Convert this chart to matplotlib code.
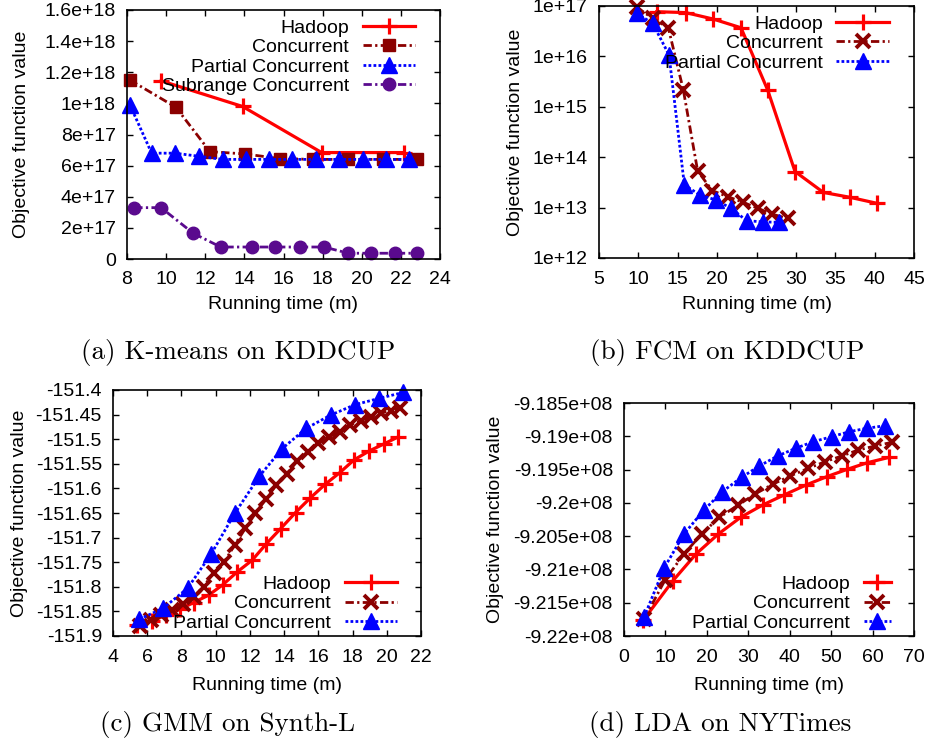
import matplotlib
matplotlib.use("Agg")
import matplotlib.pyplot as plt
from matplotlib.ticker import MultipleLocator, FuncFormatter, LogLocator, NullLocator

plt.rcParams['font.family'] = 'Liberation Sans'
plt.rcParams['font.size'] = 14

# (a) K-means on KDDCUP
km_hadoop_t = [9.74, 13.91, 17.95, 22.18]
km_hadoop_v = [1.145e18, 9.8e17, 6.84e17, 6.84e17]
km_conc_t = [8.15, 10.5, 12.24, 14.03, 15.82, 17.53, 19.32, 21.1, 22.84]
km_conc_v = [1.15e18, 9.75e17, 6.9e17, 6.75e17, 6.45e17, 6.4e17, 6.4e17, 6.4e17, 6.4e17]
km_part_t = [8.15, 9.26, 10.45, 11.68, 12.89, 14.07, 15.28, 16.45, 17.66, 18.85, 20.05, 21.24, 22.43]
km_part_v = [9.9e17, 6.8e17, 6.8e17, 6.6e17, 6.4e17, 6.4e17, 6.4e17, 6.4e17, 6.4e17,
             6.4e17, 6.4e17, 6.4e17, 6.4e17]
km_sub_t = [8.37, 9.74, 11.39, 12.79, 14.38, 15.57, 16.84, 18.07, 19.32, 20.46, 21.7, 22.81]
km_sub_v = [3.3e17, 3.3e17, 1.65e17, 7.7e16, 7.7e16, 7.7e16, 7.7e16, 7.7e16,
            3.7e16, 3.7e16, 3.7e16, 3.7e16]

# (b) FCM on KDDCUP
fcm_hadoop_t = [12.33, 16.0, 19.52, 23.03, 26.42, 29.89, 33.49, 36.87, 40.26]
fcm_hadoop_v = [7.7e16, 7.4e16, 5.5e16, 3.7e16, 2.15e15, 5.2e13, 2.0e13, 1.6e13, 1.22e13]
fcm_conc_t = [9.78, 11.82, 13.8, 15.71, 17.53, 19.39, 21.34, 23.33, 25.15, 27.0, 28.96]
fcm_conc_v = [9.4e16, 5.7e16, 3.7e16, 2.15e15, 5.3e13, 2.17e13, 1.65e13, 1.27e13,
              9.7e12, 7.4e12, 6.1e12]
fcm_part_t = [9.78, 11.82, 13.89, 15.84, 17.83, 19.82, 21.76, 23.75, 25.86, 27.89]
fcm_part_v = [7.2e16, 4.5e16, 1.07e16, 2.8e13, 1.78e13, 1.42e13, 9.7e12, 5.5e12, 5.2e12, 5.1e12]

# (c) GMM on Synth-L
gmm_hadoop_t = [5.43, 6.27, 7.09, 7.89, 8.71, 9.59, 10.41, 11.25, 12.13, 12.95, 13.79,
                14.67, 15.51, 16.39, 17.25, 18.09, 18.97, 19.81, 20.63]
gmm_hadoop_v = [-151.878, -151.869, -151.858, -151.846, -151.832, -151.817, -151.796,
                -151.770, -151.746, -151.713, -151.682, -151.649, -151.620, -151.592,
                -151.568, -151.542, -151.524, -151.510, -151.496]
gmm_conc_t = [5.58, 6.21, 6.83, 7.46, 8.08, 8.71, 9.29, 9.88, 10.51, 11.11, 11.74, 12.32,
              12.95, 13.55, 14.14, 14.77, 15.39, 15.98, 16.62, 17.25, 17.85, 18.48, 19.1,
              19.65, 20.24, 20.78]
gmm_conc_v = [-151.880, -151.867, -151.858, -151.847, -151.834, -151.820, -151.800,
              -151.771, -151.749, -151.715, -151.681, -151.651, -151.621, -151.593,
              -151.571, -151.544, -151.525, -151.508, -151.496, -151.485, -151.471,
              -151.462, -151.454, -151.447, -151.442, -151.437]
gmm_part_t = [5.54, 6.91, 8.36, 9.74, 11.15, 12.56, 13.89, 15.29, 16.72, 18.13, 19.55, 20.96]
gmm_part_v = [-151.866, -151.844, -151.803, -151.733, -151.649, -151.575, -151.519,
              -151.478, -151.451, -151.430, -151.417, -151.405]

# (d) LDA on NYTimes
lda_hadoop_t = [4.67, 11.75, 17.38, 22.77, 28.16, 33.47, 38.62, 43.93, 48.92, 53.9, 58.73, 64.04]
lda_hadoop_v = [-9.2176e8, -9.21174e8, -9.20768e8, -9.20468e8, -9.20217e8, -9.20032e8,
                -9.19882e8, -9.19732e8, -9.19607e8, -9.19496e8, -9.19397e8, -9.19316e8]
lda_conc_t = [4.83, 9.9, 14.48, 18.75, 23.0, 27.6, 31.62, 35.88, 40.07, 44.5, 48.52,
              52.54, 56.56, 60.58, 64.6]
lda_conc_v = [-9.2175e8, -9.21159e8, -9.20768e8, -9.20468e8, -9.20217e8, -9.20032e8,
              -9.19867e8, -9.19721e8, -9.19597e8, -9.19481e8, -9.19382e8, -9.19296e8,
              -9.19206e8, -9.19146e8, -9.19091e8]
lda_part_t = [4.83, 9.65, 14.48, 19.31, 23.73, 28.4, 32.66, 37.09, 41.44, 45.69, 50.13,
              54.38, 58.58, 63.0]
lda_part_v = [-9.21719e8, -9.20983e8, -9.20468e8, -9.20107e8, -9.19832e8, -9.19616e8,
              -9.19446e8, -9.19296e8, -9.1918e8, -9.19081e8, -9.19006e8, -9.18931e8,
              -9.1888e8, -9.18841e8]

RED = '#ff0000'
DARKRED = '#8b0000'
BLUE = '#0000ff'
PURPLE = '#5a0a8e'

# line styles for the systems
hadoop = dict(color=RED, lw=2.3, marker='+', ms=11, mew=2.3, label='Hadoop')
conc_sq = dict(color=DARKRED, lw=2.0, ls=(0, (3, 1.2, 0.8, 1.2)), marker='s', ms=9,
               label='Concurrent')
conc_x = dict(color=DARKRED, lw=2.0, ls=(0, (3, 1.2, 0.8, 1.2)), marker='x', ms=10,
              mew=2.8, label='Concurrent')
partial = dict(color=BLUE, lw=2.0, ls=(0, (1, 0.8)), marker='^', ms=11, mfc=BLUE,
               mec=BLUE, label='Partial Concurrent')
subrange = dict(color=PURPLE, lw=2.0, ls=(0, (3, 1.2, 0.8, 1.2)), marker='o', ms=9,
                label='Subrange Concurrent')

W, H = 931, 746
fig = plt.figure(figsize=(W / 100, H / 100), dpi=100)


def make_axes(left, top, right, bottom):
    ax = fig.add_axes([left / W, 1 - bottom / H, (right - left) / W, (bottom - top) / H])
    ax.tick_params(direction='in', top=True, right=True, length=4, width=1,
                   labelsize=14, pad=9)
    ax.tick_params(axis='y', pad=8)
    for s in ax.spines.values():
        s.set_linewidth(1.2)
    return ax


gfmt = FuncFormatter(lambda v, p: '%g' % v)


def finish(ax, handlelength, anchor, loc):
    ax.legend(loc=loc, bbox_to_anchor=anchor, frameon=False, markerfirst=False,
              handlelength=handlelength, handletextpad=0.7, labelspacing=0.1,
              borderpad=0, borderaxespad=0, fontsize=14)


# (a)
ax = make_axes(127, 10, 440, 259)
ax.plot(km_hadoop_t, km_hadoop_v, clip_on=False, **hadoop)
ax.plot(km_conc_t, km_conc_v, clip_on=False, **conc_sq)
ax.plot(km_part_t, km_part_v, clip_on=False, **partial)
ax.plot(km_sub_t, km_sub_v, clip_on=False, **subrange)
ax.set_xlim(8, 24)
ax.set_ylim(0, 1.6e18)
ax.xaxis.set_major_locator(MultipleLocator(2))
ax.yaxis.set_major_locator(MultipleLocator(2e17))
ax.yaxis.set_major_formatter(gfmt)
finish(ax, 2.7, (1 - 25 / 313, 1 - 9 / 249), 'upper right')

# (b)
ax = make_axes(599, 6, 914, 258)
ax.plot(fcm_hadoop_t, fcm_hadoop_v, clip_on=False, **hadoop)
ax.plot(fcm_conc_t, fcm_conc_v, clip_on=False, **conc_x)
ax.plot(fcm_part_t, fcm_part_v, clip_on=False, **partial)
ax.set_yscale('log')
ax.set_xlim(5, 45)
ax.set_ylim(1e12, 1e17)
ax.xaxis.set_major_locator(MultipleLocator(5))
ax.yaxis.set_major_locator(LogLocator(base=10, numticks=10))
ax.yaxis.set_minor_locator(NullLocator())
ax.yaxis.set_major_formatter(gfmt)
finish(ax, 2.7, (1 - 25 / 315, 1 - 9 / 252), 'upper right')

# (c)
ax = make_axes(113, 390, 421, 636)
ax.plot(gmm_hadoop_t, gmm_hadoop_v, clip_on=False, **hadoop)
ax.plot(gmm_conc_t, gmm_conc_v, clip_on=False, **conc_x)
ax.plot(gmm_part_t, gmm_part_v, clip_on=False, **partial)
ax.set_xlim(4, 22)
ax.set_ylim(-151.9, -151.4)
ax.xaxis.set_major_locator(MultipleLocator(2))
ax.yaxis.set_major_locator(MultipleLocator(0.05))
ax.yaxis.set_major_formatter(gfmt)
finish(ax, 2.7, (1 - 24 / 308, 4 / 246), 'lower right')

# (d)
ax = make_axes(624, 403, 914, 636)
ax.plot(lda_hadoop_t, lda_hadoop_v, clip_on=False, **hadoop)
ax.plot(lda_conc_t, lda_conc_v, clip_on=False, **conc_x)
ax.plot(lda_part_t, lda_part_v, clip_on=False, **partial)
ax.set_xlim(0, 70)
ax.set_ylim(-9.22e8, -9.185e8)
ax.xaxis.set_major_locator(MultipleLocator(10))
ax.yaxis.set_major_locator(MultipleLocator(5e5))
ax.yaxis.set_major_formatter(gfmt)
finish(ax, 1.4, (1 - 23 / 290, 4 / 233), 'lower right')

# axis titles
for x, y in [(283, 305), (757, 305), (267, 685), (769, 685)]:
    fig.text(x / W, 1 - y / H, 'Running time (m)', ha='center', va='center', fontsize=14)
for x, y in [(22, 134), (515, 132), (20, 513), (495, 519)]:
    fig.text(x / W, 1 - y / H, 'Objective function value', ha='center', va='center',
             rotation=90, fontsize=14)

# sub-figure captions
captions = ['(a) K-means on KDDCUP', '(b) FCM on KDDCUP',
            '(c) GMM on Synth-L', '(d) LDA on NYTimes']
for (x, y), txt in zip([(238, 352), (727, 352), (228, 724), (720, 724)], captions):
    fig.text(x / W, 1 - y / H, txt, ha='center', va='center', fontsize=19.5,
             family='cmr10')

fig.savefig('out.png', dpi=100)
